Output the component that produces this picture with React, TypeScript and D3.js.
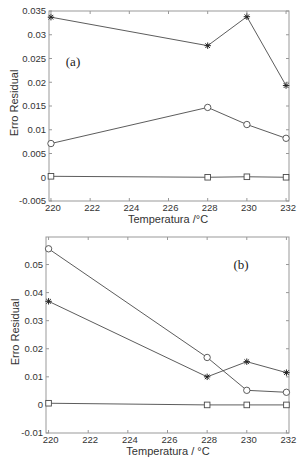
import React from 'react';
import * as d3 from 'd3';

// temperaturas (°C)
const temps = [220, 228, 230, 232];

// painel (a)
const aStar = [0.0337, 0.0277, 0.0338, 0.0193];
const aCircle = [0.0071, 0.0147, 0.0111, 0.0082];
const aSquare = [0.0002, 0.0000, 0.0001, 0.0000];
const aTicksY = [-0.005, 0, 0.005, 0.01, 0.015, 0.02, 0.025, 0.03, 0.035];

// painel (b)
const bCircle = [0.0556, 0.0169, 0.0052, 0.0045];
const bStar = [0.0369, 0.0100, 0.0154, 0.0115];
const bSquare = [0.0006, 0.0000, 0.0000, 0.0000];
const bTicksY = [-0.01, 0, 0.01, 0.02, 0.03, 0.04, 0.05];

const ticksX = [220, 222, 224, 226, 228, 230, 232];

const font = 'Liberation Sans, Arial, sans-serif';
const lineColor = '#4a4a4a';
const boxColor = '#999';
const textColor = '#333';

type PanelProps = {
    xDomain: [number, number];
    xRange: [number, number];
    yDomain: [number, number];
    yRange: [number, number];
    ticksY: number[];
    series: { values: number[]; marker: string }[];
    tag: string;
    tagPos: [number, number];
    xLabel: string;
    ylabelX: number;
};

function marker(kind: string, x: number, y: number, key: string) {
    if (kind === 'circle') {
        return <circle key={key} cx={x} cy={y} r={3.2} fill="white" stroke={lineColor} strokeWidth={0.9} />;
    }
    if (kind === 'square') {
        return <rect key={key} x={x - 2.8} y={y - 2.8} width={5.6} height={5.6} fill="white" stroke={lineColor} strokeWidth={0.9} />;
    }
    const s = 3.2, d = 2.3;
    const p = `M${x - s},${y}L${x + s},${y}M${x},${y - s}L${x},${y + s}M${x - d},${y - d}L${x + d},${y + d}M${x - d},${y + d}L${x + d},${y - d}`;
    return <path key={key} d={p} stroke="#222" strokeWidth={1} fill="none" />;
}

function Panel(props: PanelProps) {
    const x = d3.scaleLinear().domain(props.xDomain).range(props.xRange);
    const y = d3.scaleLinear().domain(props.yDomain).range(props.yRange);
    const [x0, x1] = props.xRange;
    const [y1, y0] = props.yRange;
    const line = d3.line<number>()
        .x((d, i) => x(temps[i]))
        .y(d => y(d));
    const fmt = (v: number) => String(+v.toFixed(3));
    const tl = 3;

    return (
        <g fontFamily={font}>
            <rect x={x0} y={y0} width={x1 - x0} height={y1 - y0} fill="white" stroke={boxColor} strokeWidth={1} />
            {props.ticksY.map(t => (
                <g key={'y' + t}>
                    <line x1={x0} x2={x0 + tl} y1={y(t)} y2={y(t)} stroke={boxColor} />
                    <line x1={x1} x2={x1 - tl} y1={y(t)} y2={y(t)} stroke={boxColor} />
                    <text x={x0 - 3} y={y(t)} dy="0.35em" textAnchor="end" fontSize={9.5} fill={textColor}>{fmt(t)}</text>
                </g>
            ))}
            {ticksX.map(t => (
                <g key={'x' + t}>
                    <line x1={x(t)} x2={x(t)} y1={y1} y2={y1 - tl} stroke={boxColor} />
                    <line x1={x(t)} x2={x(t)} y1={y0} y2={y0 + tl} stroke={boxColor} />
                    <text x={x(t) + 2} y={y1 + 10} textAnchor="middle" fontSize={9.5} fill={textColor}>{t}</text>
                </g>
            ))}
            {props.series.map((s, si) => (
                <g key={'s' + si}>
                    <path d={line(s.values) || ''} fill="none" stroke={lineColor} strokeWidth={0.9} />
                    {s.values.map((v, i) => marker(s.marker, x(temps[i]), y(v), si + '-' + i))}
                </g>
            ))}
            <text x={props.tagPos[0]} y={props.tagPos[1]} textAnchor="middle" fontSize={13}
                fontFamily="Liberation Serif, Times New Roman, serif" fill="#222">{props.tag}</text>
            <text x={168} y={y1 + 22} textAnchor="middle" fontSize={11} fill={textColor}>{props.xLabel}</text>
            <text transform={`translate(${props.ylabelX},${(y0 + y1) / 2 - 3}) rotate(-90)`} textAnchor="middle"
                fontSize={11} fill={textColor}>Erro Residual</text>
        </g>
    );
}

export default function App() {
    return (
        <svg width={300} height={458} style={{ position: 'absolute', left: 0, top: 0, background: 'white' }}>
            <Panel
                xDomain={[219.9, 232.15]} xRange={[49, 289]}
                yDomain={[-0.005, 0.035]} yRange={[201, 11]}
                ticksY={aTicksY}
                series={[
                    { values: aStar, marker: 'star' },
                    { values: aCircle, marker: 'circle' },
                    { values: aSquare, marker: 'square' },
                ]}
                tag="(a)" tagPos={[73, 66]}
                xLabel="Temperatura /°C" ylabelX={18}
            />
            <Panel
                xDomain={[219.87, 232.13]} xRange={[46, 289]}
                yDomain={[-0.01, 0.0598]} yRange={[433, 237]}
                ticksY={bTicksY}
                series={[
                    { values: bCircle, marker: 'circle' },
                    { values: bStar, marker: 'star' },
                    { values: bSquare, marker: 'square' },
                ]}
                tag="(b)" tagPos={[241, 269]}
                xLabel="Temperatura / °C" ylabelX={19}
            />
        </svg>
    );
}
